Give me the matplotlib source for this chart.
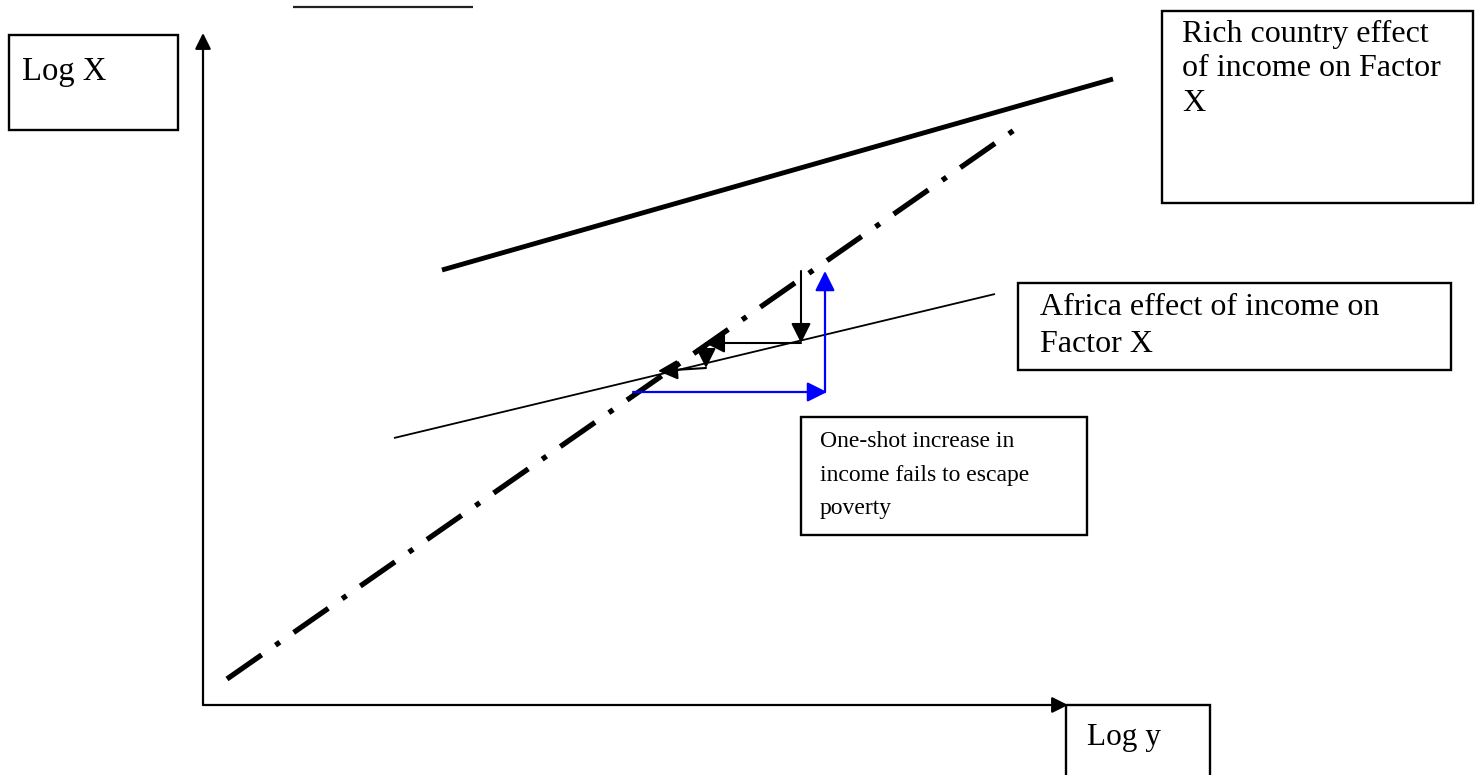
import matplotlib
matplotlib.use("Agg")
import matplotlib.pyplot as plt
from matplotlib.patches import Rectangle

plt.rcParams['font.family'] = ['Liberation Serif', 'DejaVu Serif']

# ---- diagram data (pixel-like coordinates, y downward) ----
axis_origin = (203, 705)
y_axis_top = (203, 33)
x_axis_right = (1068, 705)

rich_x = [442, 1113]
rich_y = [270, 79]

africa_x = [394, 995]
africa_y = [438, 294]

escape_x = [227, 1020]
escape_y = [679, 126]

top_rule_x = [293, 473]
top_rule_y = [7, 7]

# black adjustment arrows: (start, end)
black_arrows = [((801, 271), (801, 343)),
                ((801, 343), (705, 343)),
                ((706, 343), (706, 368)),
                ((706, 368), (658, 371))]

# blue one-shot arrows
blue_arrows = [((633, 392), (827, 392)),
               ((825, 392), (825, 271))]

# boxes: (x0, y0, x1, y1)
boxes = {
    'logx': (9, 35, 178, 130),
    'logy': (1066, 705, 1210, 780),
    'rich': (1162, 11, 1473, 203),
    'africa': (1018, 283, 1451, 370),
    'oneshot': (801, 417, 1087, 535),
}
labels = {
    'logx': ['Log X'],
    'logy': ['Log y'],
    'rich': ['Rich country effect', 'of income on Factor', 'X'],
    'africa': ['Africa effect of income on', 'Factor X'],
    'oneshot': ['One-shot increase in', 'income fails to escape', 'poverty'],
}
label_pos = {
    'logx': (22, 80, 33),
    'logy': (1087, 745, 33),
    'rich': (1182, 42, 34.5),
    'africa': (1040, 315, 37),
    'oneshot': (820, 447, 33.5),
}
label_size = {'logx': 23.5, 'logy': 22.5, 'rich': 23, 'africa': 23, 'oneshot': 17}

fig = plt.figure(figsize=(14.78, 7.75), dpi=100)
ax = fig.add_axes([0, 0, 1, 1])
ax.set_xlim(0, 1478)
ax.set_ylim(775, 0)
ax.axis('off')

# axes arrows
ax.annotate('', xy=y_axis_top, xytext=axis_origin,
            arrowprops=dict(arrowstyle='-|>', lw=1.6, color='black',
                            mutation_scale=24, shrinkA=0, shrinkB=0))
ax.annotate('', xy=x_axis_right, xytext=axis_origin,
            arrowprops=dict(arrowstyle='-|>', lw=1.6, color='black',
                            mutation_scale=24, shrinkA=0, shrinkB=0))

# lines
ax.plot(top_rule_x, top_rule_y, color='#222222', lw=1.6, solid_capstyle='butt')
ax.plot(rich_x, rich_y, color='black', lw=3.5, solid_capstyle='butt')
ax.plot(africa_x, africa_y, color='black', lw=1.3, solid_capstyle='butt')
ax.plot(escape_x, escape_y, color='black', lw=3.8,
        linestyle=(0, (8, 3.2, 1.0, 3.2)), dash_capstyle='butt')

for (s, e) in black_arrows:
    ax.annotate('', xy=e, xytext=s,
                arrowprops=dict(arrowstyle='-|>', lw=1.5, color='black',
                                mutation_scale=30, shrinkA=0, shrinkB=0))
for (s, e) in blue_arrows:
    ax.annotate('', xy=e, xytext=s,
                arrowprops=dict(arrowstyle='-|>', lw=1.6, color='#0000ff',
                                mutation_scale=30, shrinkA=0, shrinkB=0))

# boxes and their text
for key, (x0, y0, x1, y1) in boxes.items():
    ax.add_patch(Rectangle((x0, y0), x1 - x0, y1 - y0, fill=False,
                           edgecolor='black', lw=1.7, clip_on=False))
    tx, ty, dy = label_pos[key]
    for i, line in enumerate(labels[key]):
        ax.text(tx, ty + i * dy, line, fontsize=label_size[key],
                ha='left', va='baseline', color='black')

fig.savefig('out.png', dpi=100)
